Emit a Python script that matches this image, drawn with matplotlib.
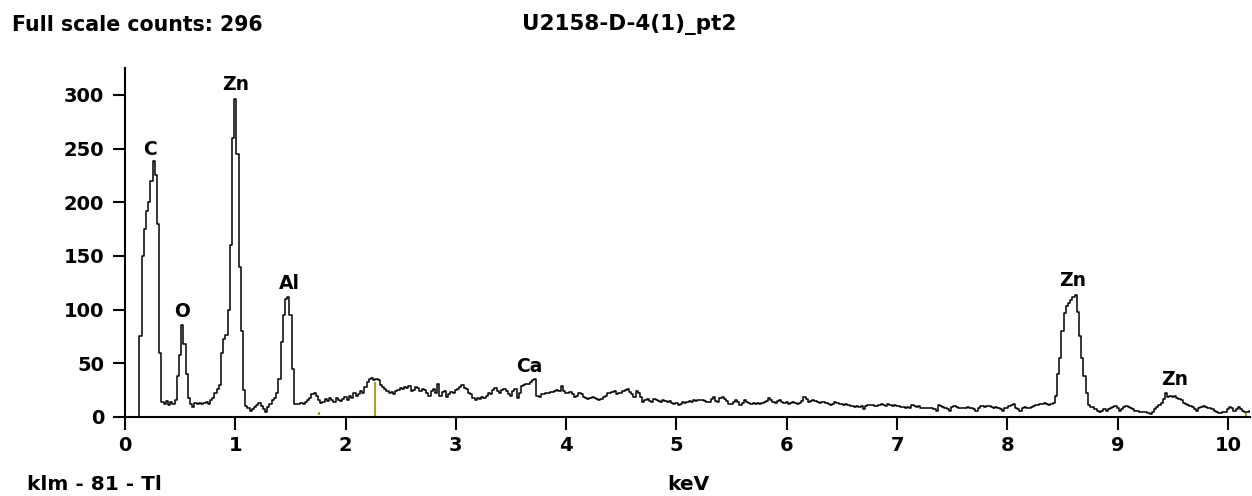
import numpy as np
import matplotlib
matplotlib.use("Agg")
import matplotlib.pyplot as plt

# ---- data -------------------------------------------------------------
channel_width_kev = 0.02
counts = [
    0, 0, 0, 0, 0, 0, 0, 75, 150, 175,            # 0.00
    192, 200, 220, 238, 225, 180, 60, 14, 12, 15,  # 0.20
    11, 14, 12, 16, 38, 58, 86, 68, 40, 18,        # 0.40
    12, 9, 13, 12, 13, 12, 13, 14, 12, 16,         # 0.60
    18, 22, 26, 30, 60, 73, 76, 100, 160, 260,     # 0.80
    296, 245, 140, 80, 25, 10, 8, 6, 7, 9,         # 1.00
    11, 13, 10, 7, 5, 9, 12, 16, 18, 22,           # 1.20
    35, 70, 95, 110, 112, 95, 45, 12, 12, 12,      # 1.40
    13, 12, 14, 16, 18, 21, 22, 20, 16, 13,        # 1.60
    14, 17, 15, 18, 16, 14, 18, 16, 15, 17,        # 1.80
    19, 16, 20, 18, 22, 20, 21, 24, 22, 28,        # 2.00
    33, 35, 36, 34, 35, 34, 30, 28, 26, 24,        # 2.20
    22, 23, 21, 24, 25, 27, 26, 28, 27, 29,        # 2.40
    24, 25, 28, 27, 24, 26, 25, 22, 20, 24,        # 2.60
    26, 22, 31, 20, 23, 24, 19, 21, 23, 22,        # 2.80
    25, 26, 28, 30, 27, 26, 22, 21, 18, 16,        # 3.00
    18, 17, 19, 18, 20, 22, 21, 25, 27, 24,        # 3.20
    22, 25, 26, 24, 21, 20, 24, 26, 18, 22,        # 3.40
    29, 30, 31, 31, 33, 34, 35, 20, 19, 21,        # 3.60
    21, 22, 22, 23, 23, 24, 25, 24, 29, 24,        # 3.80
    22, 22, 23, 21, 19, 20, 22, 21, 19, 18,        # 4.00
    17, 18, 19, 18, 17, 16, 17, 19, 20, 22,        # 4.20
    22, 23, 24, 21, 22, 22, 24, 25, 26, 23,        # 4.40
    21, 19, 24, 22, 19, 14, 16, 17, 15, 14,        # 4.60
    17, 16, 15, 14, 16, 15, 14, 15, 13, 12,        # 4.80
    13, 11, 12, 14, 13, 14, 15, 14, 16, 15,        # 5.00
    16, 16, 16, 15, 14, 14, 17, 19, 15, 14,        # 5.20
    18, 19, 17, 15, 12, 12, 14, 16, 14, 11,        # 5.40
    13, 16, 14, 13, 12, 13, 12, 13, 12, 13,        # 5.60
    14, 15, 18, 16, 14, 13, 15, 16, 14, 13,        # 5.80
    14, 12, 13, 14, 13, 12, 13, 15, 19, 17,        # 6.00
    14, 15, 16, 15, 14, 13, 14, 14, 13, 12,        # 6.20
    11, 12, 14, 13, 12, 12, 11, 12, 11, 10,        # 6.40
    10, 9, 10, 9, 10, 7, 10, 11, 11, 11,           # 6.60
    10, 10, 11, 12, 11, 10, 12, 11, 10, 11,        # 6.80
    10, 10, 9, 9, 8, 9, 8, 11, 10, 9,              # 7.00
    10, 8, 8, 8, 8, 8, 8, 7, 6, 11,                # 7.20
    10, 9, 8, 7, 6, 9, 10, 9, 8, 8,                # 7.40
    8, 8, 9, 8, 8, 7, 6, 8, 10, 10,                # 7.60
    9, 10, 10, 9, 8, 9, 8, 7, 6, 8,                # 7.80
    8, 10, 11, 12, 8, 7, 6, 8, 9, 8,               # 8.00
    8, 9, 10, 11, 11, 12, 12, 13, 12, 11,          # 8.20
    12, 13, 20, 40, 55, 80, 97, 103, 106, 109,     # 8.40
    112, 114, 98, 75, 55, 38, 22, 11, 9, 9,        # 8.60
    7, 6, 5, 6, 7, 6, 7, 8, 9, 10,                 # 8.80
    8, 6, 7, 9, 10, 9, 8, 7, 6, 6,                 # 9.00
    5, 5, 5, 5, 4, 3, 5, 7, 9, 11,                 # 9.20
    13, 17, 22, 19, 20, 19, 20, 18, 17, 16,        # 9.40
    13, 12, 11, 10, 9, 7, 6, 8, 9, 10,             # 9.60
    9, 8, 8, 7, 6, 5, 4, 4, 5, 5,                  # 9.80
    7, 9, 8, 6, 7, 9, 7, 6, 5, 5,                  # 10.00
    6, 5,                                          # 10.20
]

peak_labels = ["C", "O", "Zn", "Al", "Ca", "Zn", "Zn"]
peak_label_kev = [0.228, 0.521, 1.006, 1.487, 3.663, 8.589, 9.515]
peak_label_counts = [249, 98, 310, 124, 47, 127, 34.5]

marker_kev = [1.76, 2.27, 10.16]
marker_low = [2, 0, 0]
marker_high = [5, 33, 4]

x_ticks = list(range(0, 11))
y_ticks = [0, 50, 100, 150, 200, 250, 300]

header_left = "Full scale counts: 296"
header_title = "U2158-D-4(1)_pt2"
footer_left = "klm - 81 - Tl"
x_label = "keV"

# ---- figure -----------------------------------------------------------
W, H = 1252, 496
fig = plt.figure(figsize=(W / 100, H / 100), dpi=100)
ax = fig.add_axes([125 / W, 1 - 417 / H, (1250 - 125) / W, (417 - 68) / H])

energy = np.arange(len(counts)) * channel_width_kev
ink = "#000000"
ax.plot(energy, counts, drawstyle="steps-mid", color=ink, lw=1.1)

ax.vlines(marker_kev, marker_low, marker_high, colors="#a3a32a", lw=1.6)

ax.set_xlim(0, 10.2)
ax.set_ylim(0, 325)
for s in ("top", "right"):
    ax.spines[s].set_visible(False)
for s in ("left", "bottom"):
    ax.spines[s].set_linewidth(1.5)
    ax.spines[s].set_color(ink)

ax.set_xticks(x_ticks)
ax.set_yticks(y_ticks)
ax.tick_params(axis="both", direction="out", length=9, width=1.5, colors=ink,
               labelsize=14)
ax.tick_params(axis="x", pad=5)
ax.tick_params(axis="y", pad=6)
for lab in ax.get_xticklabels() + ax.get_yticklabels():
    lab.set_fontweight("bold")

for t, e, c in zip(peak_labels, peak_label_kev, peak_label_counts):
    ax.text(e, c, t, ha="center", va="center", fontsize=13.5,
            fontweight="bold", color=ink)

def ftext(x, y, s, size=14.8, **kw):
    fig.text(x / W, 1 - y / H, s, fontsize=size, fontweight="bold",
             color=ink, **kw)

ftext(12, 31, header_left, ha="left", va="baseline")
ftext(629, 30, header_title, ha="center", va="baseline", size=15.5)
ftext(27, 490, footer_left, ha="left", va="baseline", size=14.5)
ftext(667, 490, x_label, ha="left", va="baseline", size=14.5)

fig.savefig("out.png", dpi=100)
